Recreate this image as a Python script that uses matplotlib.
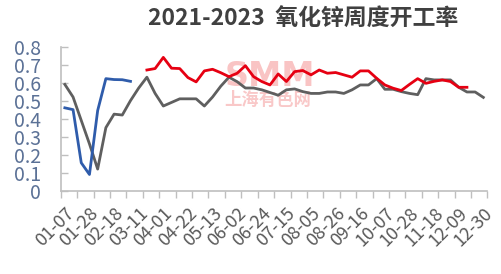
import numpy as np
import matplotlib
matplotlib.use("Agg")
import matplotlib.pyplot as plt

plt.rcParams['font.family'] = ['Noto Sans CJK SC', 'DejaVu Sans']

# 52 weeks per year, tick labels every 3 weeks
tick_labels = ['01-07', '01-28', '02-18', '03-11', '04-01', '04-22', '05-13', '06-02', '06-24',
               '07-15', '08-05', '08-26', '09-16', '10-07', '10-28', '11-18', '12-09', '12-30']

nan = np.nan
# gray series (full year)
gray_vals = [0.59, 0.52, 0.39, 0.26, 0.12, 0.35, 0.425, 0.42, 0.50, 0.57,
             0.63, 0.54, 0.47, 0.49, 0.51, 0.51, 0.51, 0.47, 0.52, 0.58,
             0.63, 0.605, 0.57, 0.57, 0.56, 0.545, 0.53, 0.56, 0.565, 0.55,
             0.54, 0.54, 0.548, 0.548, 0.54, 0.56, 0.587, 0.587, 0.622, 0.563,
             0.563, 0.55, 0.54, 0.533, 0.622, 0.615, 0.615, 0.615, 0.574, 0.548,
             0.548, 0.518]
# red series (starts week 11, ends week 50)
red_vals = [nan] * 10 + [
    0.67, 0.678, 0.74, 0.68, 0.678, 0.628, 0.604, 0.665, 0.674, 0.655,
    0.633, 0.652, 0.694, 0.633, 0.606, 0.587, 0.648, 0.606, 0.661, 0.667,
    0.643, 0.67, 0.652, 0.656, 0.643, 0.63, 0.665, 0.665, 0.624, 0.587,
    0.569, 0.556, 0.59, 0.622, 0.596, 0.607, 0.615, 0.606, 0.574, 0.574] + [nan] * 2
# blue series (first 9 weeks)
blue_vals = [0.46, 0.45, 0.155, 0.09, 0.445, 0.622, 0.617, 0.616, 0.607] + [nan] * 43

weeks = np.arange(len(gray_vals))

fig = plt.figure(figsize=(5.02, 2.74), dpi=100)
ax = fig.add_axes([0.121, 0.304, 0.850, 0.526])

ax.plot(weeks, gray_vals, color='#5f5f5f', lw=2.0, zorder=3)
ax.plot(weeks, red_vals, color='#e60012', lw=2.0, zorder=4)
ax.plot(weeks, blue_vals, color='#2f5cab', lw=2.0, zorder=4)

# watermark
ax.text(0.49, 0.79, 'SMM', transform=ax.transAxes, fontsize=24, fontweight='bold',
        color='#f9c4c4', ha='center', va='center', family='DejaVu Sans', zorder=2)
ax.text(0.485, 0.63, '上海有色网', transform=ax.transAxes, fontsize=12.5, fontweight='bold',
        color='#f9c8c8', ha='center', va='center', zorder=2)

ax.set_xlim(-0.5, len(weeks) - 0.5)
ax.set_ylim(0, 0.8)

# tick marks on category boundaries every 2 weeks, labels every 3 weeks
ax.set_xticks(np.arange(-0.5, len(weeks), 2))
ax.set_xticklabels([])
ax.set_xticks(np.arange(0, len(weeks), 3), tick_labels, minor=True)
ax.tick_params(axis='x', which='major', direction='out', length=5, color='#bfbfbf', width=1)
ax.tick_params(axis='x', which='minor', length=0, pad=10, labelsize=13, labelcolor='#595959')
for lab in ax.get_xticklabels(minor=True):
    lab.set_rotation(45)
    lab.set_ha('right')
    lab.set_va('top')
    lab.set_rotation_mode('anchor')

yt = np.arange(0, 0.81, 0.1)
ax.set_yticks(yt, ['0'] + ['%.1f' % v for v in yt[1:]])
ax.tick_params(axis='y', direction='in', length=5, color='#bfbfbf', width=1,
               pad=14, labelsize=14, labelcolor='#5b7196')

for s in ['top', 'right']:
    ax.spines[s].set_visible(False)
for s in ['left', 'bottom']:
    ax.spines[s].set_color('#bfbfbf')
    ax.spines[s].set_linewidth(1.2)

fig.text(0.604, 0.93, '2021-2023  氧化锌周度开工率', ha='center', va='center',
         fontsize=16.5, fontweight='bold', color='#404040')

fig.savefig('out.png', dpi=100)
